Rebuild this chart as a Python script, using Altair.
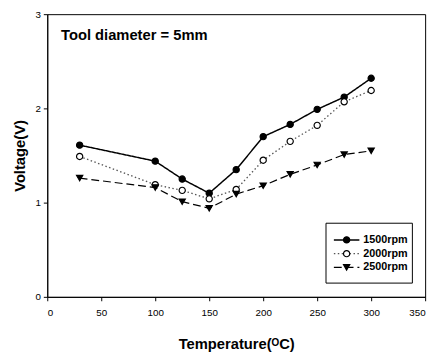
import altair as alt
import pandas as pd

temps = [30, 100, 125, 150, 175, 200, 225, 250, 275, 300]
v1500 = [1.61, 1.44, 1.25, 1.10, 1.35, 1.70, 1.83, 1.99, 2.12, 2.32]
v2000 = [1.49, 1.19, 1.13, 1.04, 1.14, 1.45, 1.65, 1.82, 2.07, 2.19]
v2500 = [1.26, 1.16, 1.01, 0.94, 1.09, 1.18, 1.30, 1.40, 1.51, 1.55]
series = ["1500rpm", "2000rpm", "2500rpm"]
x_ticks = [0, 50, 100, 150, 200, 250, 300, 350]
y_ticks = [0, 1, 2, 3]

rows = []
for name, vals in zip(series, [v1500, v2000, v2500]):
    for t, v in zip(temps, vals):
        rows.append({"T": t, "V": v, "series": name})
df = pd.DataFrame(rows)

FONT = "Liberation Sans"
dash_scale = alt.Scale(domain=series, range=[[1, 0], [1.5, 2.5], [8, 4]])
shape_scale = alt.Scale(domain=series, range=["circle", "circle", "triangle-down"])
fill_scale = alt.Scale(domain=series, range=["black", "white", "black"])
color_scale = alt.Scale(domain=series, range=["black", "#555555", "black"])
width_scale = alt.Scale(domain=series, range=[1.5, 1.2, 1.5])

xenc = alt.X("T:Q", scale=alt.Scale(domain=[0, 350], nice=False),
             axis=alt.Axis(values=x_ticks, title="Temperature(ᴼC)", grid=False,
                           tickSize=4, labelPadding=7, titlePadding=20,
                           labelFontSize=10, titleFontSize=15, titleFontWeight="bold",
                           labelFont=FONT, titleFont=FONT, domainColor="black",
                           tickColor="black", labelColor="black", titleColor="black"))
yenc = alt.Y("V:Q", scale=alt.Scale(domain=[0, 3], nice=False),
             axis=alt.Axis(values=y_ticks, format="d", title="Voltage(V)", grid=False,
                           tickSize=4, labelPadding=3, titlePadding=8,
                           labelFontSize=10, titleFontSize=15, titleFontWeight="bold",
                           labelFont=FONT, titleFont=FONT, domainColor="black",
                           tickColor="black", labelColor="black", titleColor="black"))

lines = alt.Chart(df).mark_line().encode(
    x=xenc, y=yenc,
    detail="series:N",
    strokeDash=alt.StrokeDash("series:N", scale=dash_scale, legend=None),
    color=alt.Color("series:N", scale=color_scale, legend=None),
    strokeWidth=alt.StrokeWidth("series:N", scale=width_scale, legend=None),
)
points = alt.Chart(df).mark_point(size=40, stroke="black", strokeWidth=1.2, opacity=1).encode(
    x="T:Q", y="V:Q",
    shape=alt.Shape("series:N", scale=shape_scale, legend=None),
    fill=alt.Fill("series:N", scale=fill_scale, legend=None),
)

title_df = pd.DataFrame({"label": ["Tool diameter = 5mm"]})
title = alt.Chart(title_df).mark_text(
    align="left", baseline="middle", font=FONT, fontSize=15, fontWeight="bold", color="black"
).encode(x=alt.value(14), y=alt.value(21), text="label:N")

main = alt.layer(lines, points, title)

# legend
box_df = pd.DataFrame({"k": [0]})
box = alt.Chart(box_df).mark_rect(fill="white", stroke="black", strokeWidth=1).encode(
    x=alt.value(284), x2=alt.value(372), y=alt.value(213), y2=alt.value(274)
)
leg_df = pd.DataFrame({"series": series})
ly = alt.Y("series:N", scale=alt.Scale(domain=series, type="point", padding=0, range=[230, 258]), axis=None)
leg_lines = alt.Chart(leg_df).mark_rule().encode(
    x=alt.value(292), x2=alt.value(318), y=ly,
    strokeDash=alt.StrokeDash("series:N", scale=dash_scale, legend=None),
    color=alt.Color("series:N", scale=color_scale, legend=None),
    strokeWidth=alt.StrokeWidth("series:N", scale=width_scale, legend=None),
)
leg_pts = alt.Chart(leg_df).mark_point(size=40, stroke="black", strokeWidth=1.2, opacity=1).encode(
    x=alt.value(305), y=ly,
    shape=alt.Shape("series:N", scale=shape_scale, legend=None),
    fill=alt.Fill("series:N", scale=fill_scale, legend=None),
)
leg_txt = alt.Chart(leg_df).mark_text(
    align="left", baseline="middle", font=FONT, fontSize=11, fontWeight="bold", color="black"
).encode(x=alt.value(322), y=ly, text="series:N")

legend = alt.layer(box, leg_lines, leg_pts, leg_txt)

chart = alt.layer(main, legend).resolve_scale(y="independent").properties(
    width=385, height=288,
    autosize=alt.AutoSizeParams(type="none"),
    padding={"left": 40, "top": 3, "right": 8, "bottom": 58},
    background="white",
).configure_view(stroke="black", strokeWidth=1)

chart.save("out.html", embed_options={"renderer": "svg", "actions": False})
